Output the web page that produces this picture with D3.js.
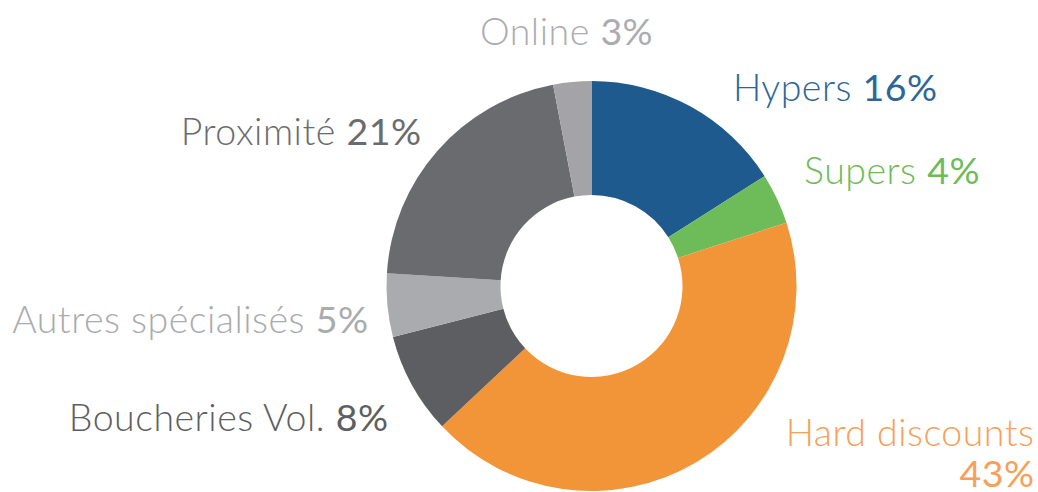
<!DOCTYPE html>
<html><head><meta charset="utf-8">
<script src="https://cdn.jsdelivr.net/npm/d3@7"></script>
<style>
html,body{margin:0;padding:0;background:#fff;}
svg{display:block;}
text{font-family:Lato,"Open Sans",sans-serif;}
</style></head>
<body>
<svg id="chart" width="1038" height="492"></svg>
<script>
const categories = ["Hypers","Supers","Hard discounts","Boucheries Vol.","Autres spécialisés","Proximité","Online"];
const values = [16,4,43,8,5,21,3];
const sliceColors = ["#1f5a8f","#6dbc59","#f29539","#5d5e61","#a9abae","#6a6b6f","#a4a3a8"];
const textColors = ["#2e6599","#6dbc59","#f6a05a","#5d5e62","#a9abae","#6a6b6f","#acacb0"];
// label layout: anchor position and alignment
const labelPos = [
  {x:733,y:101,anchor:"start"},
  {x:804,y:184,anchor:"start"},
  {x:1034,y:446,anchor:"end",split:true},
  {x:388,y:431,anchor:"end"},
  {x:368,y:333,anchor:"end"},
  {x:421,y:145,anchor:"end"},
  {x:480,y:45,anchor:"start"}
];

const svg = d3.select("#chart");
const cx = 591.5, cy = 286, rOut = 205, rIn = 91;
const data = categories.map((c,i)=>({cat:c,value:values[i],i}));
const pie = d3.pie().value(d=>d.value).sort(null).startAngle(0).endAngle(2*Math.PI);
const arc = d3.arc().innerRadius(rIn).outerRadius(rOut);
const g = svg.append("g").attr("transform",`translate(${cx},${cy})`);
g.selectAll("path").data(pie(data)).join("path")
  .attr("d",arc).attr("fill",d=>sliceColors[d.data.i]);

const fs = 37.5, ls = 0.5;
data.forEach((d,i)=>{
  const p = labelPos[i];
  const pct = d.value + "%";
  const dx = p.anchor === "end" ? ls : 0;
  if (p.split) {
    svg.append("text").attr("x",p.x + dx).attr("y",p.y).attr("text-anchor",p.anchor)
      .attr("font-size",fs).attr("letter-spacing",ls).attr("font-weight",300).attr("fill",textColors[i]).text(d.cat);
    svg.append("text").attr("x",p.x + dx).attr("y",p.y+41).attr("text-anchor",p.anchor)
      .attr("font-size",fs).attr("letter-spacing",ls).attr("font-weight",400).attr("fill",textColors[i]).text(pct);
  } else {
    const t = svg.append("text").attr("x",p.x + dx).attr("y",p.y).attr("text-anchor",p.anchor)
      .attr("font-size",fs).attr("letter-spacing",ls).attr("fill",textColors[i]);
    t.append("tspan").attr("font-weight",300).text(d.cat + " ");
    t.append("tspan").attr("font-weight",400).text(pct);
  }
});
</script>
</body></html>
